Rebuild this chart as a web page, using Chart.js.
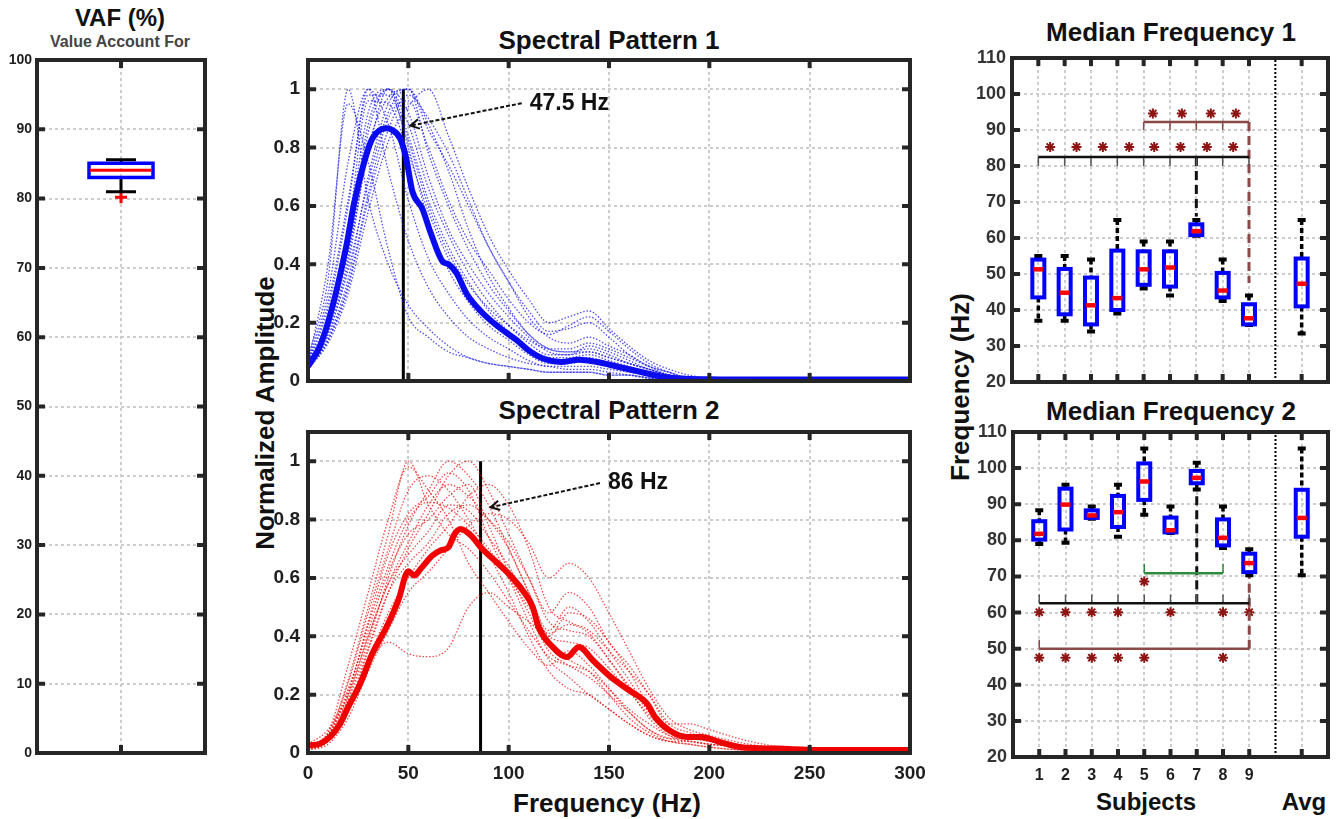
<!DOCTYPE html>
<html>
<head>
<meta charset="utf-8">
<title>VAF, spectral patterns and median frequency</title>
<script src="https://cdn.jsdelivr.net/npm/chart.js@4.4.1/dist/chart.umd.min.js"></script>
<style>
  body { margin:0; background:#fff; width:1338px; height:819px; position:relative; overflow:hidden;
         font-family:'Liberation Sans', Arial, Helvetica, sans-serif; font-weight:bold; color:#111; }
  .panel { position:absolute; }
  .lbl { position:absolute; transform:translate(-50%,-50%); white-space:nowrap; }
  .rot { transform:translate(-50%,-50%) rotate(-90deg); }
</style>
</head>
<body>
<div class="lbl" style="left:120px;top:18px;font-size:24px">VAF (%)</div>
<div class="lbl" style="left:120px;top:42px;font-size:16px;color:#444">Value Account For</div>
<div class="lbl" style="left:609px;top:40px;font-size:26px">Spectral Pattern 1</div>
<div class="lbl" style="left:609px;top:410px;font-size:26px">Spectral Pattern 2</div>
<div class="lbl rot" style="left:265px;top:413px;font-size:26px">Normalized Amplitude</div>
<div class="lbl" style="left:607px;top:803px;font-size:26px">Frequency (Hz)</div>
<div class="lbl" style="left:1171px;top:32px;font-size:26px">Median Frequency 1</div>
<div class="lbl" style="left:1171px;top:411px;font-size:26px">Median Frequency 2</div>
<div class="lbl rot" style="left:960px;top:387px;font-size:26px">Frequency (Hz)</div>
<div class="lbl" style="left:1146px;top:802px;font-size:24px">Subjects</div>
<div class="lbl" style="left:1304px;top:802px;font-size:24px">Avg</div>

<div class="panel" style="left:0px;top:36px;width:215px;height:749px"><canvas id="vaf"></canvas></div>
<div class="panel" style="left:240px;top:36px;width:702px;height:369px"><canvas id="sp1"></canvas></div>
<div class="panel" style="left:240px;top:408px;width:702px;height:381px"><canvas id="sp2"></canvas></div>
<div class="panel" style="left:955px;top:34px;width:383px;height:372px"><canvas id="mf1"></canvas></div>
<div class="panel" style="left:955px;top:408px;width:383px;height:389px"><canvas id="mf2"></canvas></div>

<script>
// ---------- data ----------
// VAF box: [lower whisker, q1, median, q3, upper whisker]
var vafBox = [81.0, 83.05, 84.1, 85.1, 85.6];
var vafOutliers = [80.2];

// spectral pattern 1 (blue)
var spec1Hz = [0,10,20,30,40,50,60,70,80,90,100,110,120,130,140,150,160,170,180,190,200,250,300];
var spec1Trials = [
  [.05,.18,.42,.85,1.0,.80,.55,.38,.27,.19,.14,.09,.06,.06,.07,.05,.04,.02,.01,.01,.005,0,0],
  [.04,.15,.35,.70,.95,1.0,.78,.60,.45,.33,.24,.16,.11,.10,.11,.09,.06,.04,.02,.01,.01,0,0],
  [.06,.25,.60,1.0,.88,.62,.42,.30,.21,.15,.11,.07,.05,.05,.05,.04,.03,.02,.01,.005,0,0,0],
  [.05,.16,.38,.68,.92,1.0,.86,.74,.60,.46,.34,.22,.15,.13,.15,.12,.09,.05,.03,.01,.01,0,0],
  [.07,.30,.75,1.0,.72,.48,.32,.22,.15,.11,.08,.06,.05,.04,.04,.03,.02,.01,.01,0,0,0,0],
  [.04,.14,.32,.62,.86,.98,.90,.78,.62,.46,.34,.24,.17,.18,.20,.15,.09,.05,.02,.01,.01,0,0],
  [.08,.35,1.0,.62,.40,.26,.18,.12,.08,.06,.05,.04,.03,.03,.03,.02,.02,.01,0,0,0,0,0],
  [.05,.20,.45,.88,1.0,.84,.62,.46,.34,.24,.17,.11,.08,.08,.09,.07,.05,.03,.02,.01,.005,0,0],
  [.06,.40,.95,.75,.45,.22,.15,.10,.08,.06,.05,.04,.03,.03,.03,.02,.02,.01,0,0,0,0,0],
  [.05,.17,.40,.80,.97,1.0,.88,.72,.52,.36,.25,.16,.11,.10,.10,.08,.06,.04,.02,.01,.01,0,0],
  [.04,.14,.33,.64,.90,.96,.80,.62,.48,.38,.28,.20,.16,.19,.22,.17,.11,.06,.03,.01,.01,0,0],
  [.06,.22,.52,.96,.95,.78,.58,.42,.30,.22,.16,.11,.08,.07,.08,.06,.04,.03,.02,.01,.005,0,0],
  [.05,.19,.44,.78,1.0,.92,.70,.52,.40,.30,.22,.15,.10,.09,.10,.08,.06,.04,.02,.01,.01,0,0],
  [.04,.13,.30,.58,.82,.94,1.0,.84,.66,.50,.38,.28,.20,.22,.24,.18,.12,.07,.04,.02,.01,0,0],
  [.05,.21,.50,.92,1.0,.88,.66,.50,.37,.27,.19,.13,.09,.09,.12,.10,.07,.04,.02,.01,.01,0,0],
  [.06,.27,.62,.98,.98,.82,.60,.44,.33,.25,.19,.14,.11,.11,.13,.11,.08,.05,.03,.01,.01,0,0]
];
var spec1MeanHz = [0,6,12,19,23,28,32,39,42,46,49,52,57,61,67,70,74,79,86,95,104,110,117,126,135,144,155,166,177,188,200,230,260,300];
var spec1Mean = [.05,.12,.25,.46,.61,.75,.83,.866,.86,.83,.76,.65,.59,.51,.41,.40,.37,.30,.24,.185,.14,.105,.077,.065,.073,.065,.048,.031,.014,.008,.006,.005,.005,.005];
var spec1Median = 47.5;

// spectral pattern 2 (red)
var spec2Hz = [0,10,20,30,40,50,60,70,80,90,100,110,120,130,140,150,160,170,180,190,200,220,250,300];
var spec2Trials = [
  [.02,.06,.25,.50,.75,1.0,.85,.75,.70,.62,.52,.42,.33,.30,.28,.22,.15,.10,.06,.05,.04,.02,.01,.01],
  [.01,.04,.15,.35,.55,.70,.82,.95,1.0,.90,.75,.60,.45,.42,.40,.32,.22,.12,.06,.04,.03,.02,.01,.01],
  [.03,.08,.20,.40,.58,.72,.85,.92,.88,.80,.70,.55,.42,.50,.45,.35,.25,.14,.07,.06,.05,.02,.01,0],
  [.02,.05,.18,.38,.60,.78,.90,1.0,.95,.85,.70,.55,.38,.32,.28,.20,.12,.07,.04,.03,.02,.01,.01,0],
  [.02,.07,.30,.55,.80,.98,.90,.80,.65,.55,.45,.36,.30,.35,.30,.22,.14,.08,.05,.04,.03,.02,.01,0],
  [.01,.03,.12,.28,.42,.55,.62,.70,.78,.82,.80,.72,.60,.65,.60,.48,.35,.22,.12,.08,.06,.03,.01,0],
  [.02,.06,.22,.42,.62,.75,.80,.88,.92,.78,.62,.48,.35,.30,.26,.20,.14,.08,.05,.05,.04,.02,.01,0],
  [.03,.05,.14,.30,.38,.34,.33,.36,.50,.55,.50,.45,.40,.48,.46,.38,.28,.16,.08,.06,.05,.02,.01,0],
  [.02,.06,.20,.45,.68,.82,.88,.96,.90,.74,.60,.45,.32,.26,.20,.15,.10,.06,.04,.04,.03,.02,.01,0],
  [.02,.05,.16,.36,.55,.65,.72,.82,.85,.80,.72,.60,.48,.55,.50,.38,.30,.20,.10,.10,.08,.04,.01,0],
  [.02,.07,.24,.48,.70,.90,.95,.90,.80,.68,.55,.40,.28,.22,.20,.15,.10,.06,.04,.03,.02,.01,.01,0],
  [.01,.04,.16,.32,.48,.60,.70,.78,.88,.92,.85,.70,.50,.45,.42,.35,.28,.20,.10,.07,.05,.02,.01,0],
  [.02,.05,.19,.40,.58,.68,.76,.85,.83,.74,.64,.52,.40,.38,.36,.29,.21,.13,.07,.06,.04,.02,.01,0],
  [.02,.06,.21,.44,.64,.80,.86,.84,.78,.70,.60,.50,.41,.44,.41,.32,.23,.14,.08,.06,.05,.02,.01,0]
];
var spec2MeanHz = [0,6,11,16,20,26,32,39,45,50,53,56,62,66,70,73,76,82,86,93,100,107,112,115,122,129,135,142,151,160,169,173,180,189,196,205,216,234,256,300];
var spec2Mean = [.026,.032,.055,.10,.157,.237,.34,.43,.523,.623,.608,.63,.677,.694,.705,.75,.768,.74,.705,.66,.614,.557,.50,.43,.363,.329,.363,.317,.26,.215,.169,.123,.078,.055,.055,.038,.02,.015,.01,.01];
var spec2Median = 86;

// median frequency boxes: subjects 1-9 then Avg (drawn at position 11)
var mfPos = [1,2,3,4,5,6,7,8,9,11];
var mfLabels = ['1','2','3','4','5','6','7','8','9',''];
var mf1Low  = [37, 37, 34, 39, 46, 44, 60.6, 42.5, 35.8, 33.5];
var mf1Q1   = [43.5, 38.8, 36, 40, 47, 46.5, 60.8, 43.5, 36, 41];
var mf1Med  = [51.3, 44.8, 41.3, 43.3, 51.3, 51.8, 61.9, 45.4, 37.7, 47.3];
var mf1Q3   = [54, 51.4, 49, 56.5, 56.3, 56.3, 63.8, 50.3, 41.6, 54.3];
var mf1High = [55, 55, 54, 65, 59, 59, 65, 54, 44, 65];
var mf2Low  = [79, 79.3, 86, 81, 87.1, 82, 94.1, 77.9, 70.3, 70.3];
var mf2Q1   = [80.2, 83, 86.2, 83.7, 91.2, 82.2, 95.8, 78.6, 71.2, 81];
var mf2Med  = [81.8, 89.9, 86.9, 87.8, 96.3, 82.8, 97.3, 80.7, 73.7, 86.2];
var mf2Q3   = [85.3, 94.3, 88.3, 92.3, 101.3, 86.3, 99.2, 85.8, 76.3, 94];
var mf2High = [88.3, 95.4, 89.4, 95.4, 105.4, 89.4, 101.5, 89.4, 77.5, 105.4];

// significance marks: [from, to, height]
var mf1SigBlack = [1, 9, 82.5];   var mf1SigBlackTicks = [1,2,3,4,5,6,7,8,9];
var mf1SigBrown = [5, 9, 92.2];   var mf1SigBrownTicks = [5,6,7,8];
var mf1Link7 = [7, 82.5, 66];     var mf1Link9 = [9, 92.2, 47.5];
var mf1StarsA = [1.45,2.45,3.45,4.45,5.4,6.4,7.4,8.4];  var mf1StarsAY = 85.3;
var mf1StarsB = [5.35,6.45,7.55,8.5];                   var mf1StarsBY = 94.6;

var mf2SigGreen = [5, 8, 70.9];   var mf2SigGreenTicks = [5,8];
var mf2SigBlack = [1, 9, 62.6];   var mf2SigBlackTicks = [1,2,3,4,5,6,7,8,9];
var mf2SigBrown = [1, 9, 50];     var mf2SigBrownTicks = [1];
var mf2Link7 = [7, 62.6, 94];     var mf2Link9 = [9, 50, 70];
var mf2StarsA = [5];                 var mf2StarsAY = 68.6;
var mf2StarsB = [1,2,3,4,6,8,9];     var mf2StarsBY = 60.1;
var mf2StarsC = [1,2,3,4,5,8];       var mf2StarsCY = 47.5;

// ---------- defaults ----------
Chart.defaults.font.family = "'Liberation Sans', Arial, Helvetica, sans-serif";
Chart.defaults.font.weight = 'bold';
Chart.defaults.color = '#1e1e1e';
Chart.defaults.animation = false;
Chart.defaults.events = [];
Chart.defaults.plugins.legend.display = false;
Chart.defaults.plugins.tooltip.enabled = false;
Chart.defaults.elements.point.radius = 0;

var GRID = { color:'#cdcdcd', lineWidth:2, drawTicks:false };
var BORDER = { display:false, dash:[3,3] };

// thick box round the plot and the short inward tick marks
Chart.register({
  id: 'frame',
  afterDraw: function(chart) {
    var ctx = chart.ctx, a = chart.chartArea, xs = chart.scales.x, ys = chart.scales.y;
    ctx.save();
    ctx.strokeStyle = '#262626';
    ctx.lineWidth = 4;
    ctx.beginPath();
    xs.ticks.forEach(function(t) {
      var px = xs.getPixelForValue(t.value);
      ctx.moveTo(px, a.bottom); ctx.lineTo(px, a.bottom - 8);
      ctx.moveTo(px, a.top); ctx.lineTo(px, a.top + 8);
    });
    ys.ticks.forEach(function(t) {
      var py = ys.getPixelForValue(t.value);
      ctx.moveTo(a.left, py); ctx.lineTo(a.left + 8, py);
      ctx.moveTo(a.right, py); ctx.lineTo(a.right - 8, py);
    });
    ctx.stroke();
    ctx.strokeRect(a.left, a.top, a.right - a.left, a.bottom - a.top);
    ctx.restore();
  }
});

function layoutFor(W, plot) {
  return { padding: { left:0, top:plot[1], right:W - plot[2], bottom:0 } };
}

function pts(xs, ys) {
  return xs.map(function(x, i) { return { x:x, y:ys[i] }; });
}

// box plot drawn through the chart scales
function boxPlugin(pos, low, q1, med, q3, high, st) {
  return {
    id: 'boxplot',
    afterDatasetsDraw: function(chart) {
      var ctx = chart.ctx, x = chart.scales.x, y = chart.scales.y;
      ctx.save();
      pos.forEach(function(p, i) {
        var cx = x.getPixelForValue(p);
        var yl = y.getPixelForValue(low[i]), y1 = y.getPixelForValue(q1[i]);
        var ym = y.getPixelForValue(med[i]), y3 = y.getPixelForValue(q3[i]);
        var yh = y.getPixelForValue(high[i]);
        ctx.strokeStyle = '#000';
        ctx.lineWidth = st.whisker;
        ctx.setLineDash(st.dash);
        ctx.beginPath();
        ctx.moveTo(cx, yh); ctx.lineTo(cx, y3);
        ctx.moveTo(cx, y1); ctx.lineTo(cx, yl);
        ctx.stroke();
        ctx.setLineDash([]);
        ctx.lineWidth = st.cap;
        ctx.beginPath();
        if (high[i] > q3[i]) { ctx.moveTo(cx - st.capHalf, yh); ctx.lineTo(cx + st.capHalf, yh); }
        if (low[i] < q1[i]) { ctx.moveTo(cx - st.capHalf, yl); ctx.lineTo(cx + st.capHalf, yl); }
        ctx.stroke();
        ctx.strokeStyle = '#0000ff';
        ctx.lineWidth = st.box;
        ctx.strokeRect(cx - st.half, y3, 2 * st.half, y1 - y3);
        ctx.strokeStyle = '#ff0000';
        ctx.lineWidth = st.med;
        ctx.beginPath();
        ctx.moveTo(cx - st.half + 1, ym); ctx.lineTo(cx + st.half - 1, ym);
        ctx.stroke();
      });
      ctx.restore();
    }
  };
}

// dashed arrow with a label on the spectral plots
function notePlugin(from, to, text) {
  return {
    id: 'note',
    afterDatasetsDraw: function(chart) {
      var ctx = chart.ctx, x = chart.scales.x, y = chart.scales.y;
      var x0 = x.getPixelForValue(from[0]), y0 = y.getPixelForValue(from[1]);
      var x1 = x.getPixelForValue(to[0]), y1 = y.getPixelForValue(to[1]);
      var ang = Math.atan2(y0 - y1, x0 - x1);
      ctx.save();
      ctx.strokeStyle = '#111';
      ctx.lineWidth = 2;
      ctx.setLineDash([4, 2]);
      ctx.beginPath(); ctx.moveTo(x0, y0); ctx.lineTo(x1, y1); ctx.stroke();
      ctx.setLineDash([]);
      ctx.beginPath();
      ctx.moveTo(x1 + 10 * Math.cos(ang + 0.5), y1 + 10 * Math.sin(ang + 0.5));
      ctx.lineTo(x1, y1);
      ctx.lineTo(x1 + 10 * Math.cos(ang - 0.5), y1 + 10 * Math.sin(ang - 0.5));
      ctx.stroke();
      ctx.fillStyle = '#111';
      ctx.font = "bold 23px 'Liberation Sans', Arial, sans-serif";
      ctx.textBaseline = 'middle';
      ctx.fillText(text, x0 + 8, y0);
      ctx.restore();
    }
  };
}

function plainNum(v) { return String(Math.round(v * 10) / 10); }

// ---------- VAF ----------
(function() {
  var W = 215, H = 749, plot = [37, 24, 205, 717];
  new Chart(document.getElementById('vaf'), {
    type: 'line',
    data: { datasets: [{
      data: vafOutliers.map(function(v) { return { x:1, y:v }; }),
      showLine: false, pointStyle: 'cross', pointRadius: 6, pointBorderWidth: 3, borderColor: '#ff0000'
    }] },
    options: {
      responsive: true, maintainAspectRatio: false,
      layout: layoutFor(W, plot),
      scales: {
        x: { type:'linear', min:0, max:2, grid:GRID, border:BORDER,
             ticks:{ display:false },
             afterBuildTicks: function(s) { s.ticks = [{ value:1 }]; },
             afterFit: function(s) { s.height = H - plot[3]; } },
        y: { min:0, max:100, grid:GRID, border:BORDER,
             ticks:{ stepSize:10, padding:5, font:{ size:14 } },
             afterFit: function(s) { s.width = plot[0]; } }
      }
    },
    plugins: [boxPlugin([1], [vafBox[0]], [vafBox[1]], [vafBox[2]], [vafBox[3]], [vafBox[4]],
      { half:32, box:3.5, med:3, whisker:3, dash:[], cap:3, capHalf:15 })]
  });
})();

// ---------- spectral patterns ----------
function spectral(id, H, showX, hz, trials, meanHz, mean, color, dotColor, median, note) {
  var W = 702, plot = [68, 24, 670, 345];
  var sets = trials.map(function(t) {
    return { data: pts(hz, t), borderColor: dotColor, borderWidth: 1.3, borderDash: [1.5, 1.8],
             cubicInterpolationMode: 'monotone' };
  });
  sets.push({ data: pts(meanHz, mean), borderColor: color, borderWidth: 6, cubicInterpolationMode: 'monotone' });
  sets.push({ data: [{ x:median, y:0 }, { x:median, y:1 }], borderColor: '#000', borderWidth: 3 });
  new Chart(document.getElementById(id), {
    type: 'line',
    data: { datasets: sets },
    options: {
      responsive: true, maintainAspectRatio: false,
      layout: layoutFor(W, plot),
      scales: {
        x: { type:'linear', min:0, max:300, grid:GRID, border:BORDER,
             ticks:{ display:showX, stepSize:50, padding:9, font:{ size:19 } },
             afterFit: function(s) { s.height = H - plot[3]; } },
        y: { min:0, max:1.1, grid:GRID, border:BORDER,
             ticks:{ stepSize:0.2, includeBounds:false, padding:8, font:{ size:19 }, callback: plainNum },
             afterFit: function(s) { s.width = plot[0]; } }
      }
    },
    plugins: [notePlugin(note[0], note[1], note[2])]
  });
}

spectral('sp1', 369, false, spec1Hz, spec1Trials, spec1MeanHz, spec1Mean, '#0a0af0', 'rgba(20,20,235,0.75)',
  spec1Median, [[106.5, 0.952], [51, 0.875], '47.5 Hz']);
spectral('sp2', 381, true, spec2Hz, spec2Trials, spec2MeanHz, spec2Mean, '#f20000', 'rgba(235,0,0,0.7)',
  spec2Median, [[145.5, 0.925], [91, 0.842], '86 Hz']);

// ---------- median frequency ----------
function hLine(sig, color) {
  return { data: [{ x:sig[0], y:sig[2] }, { x:sig[1], y:sig[2] }], borderColor: color, borderWidth: 2.5 };
}
function tickLines(xs, y0, y1, color) {
  var d = [];
  xs.forEach(function(x) { d.push({ x:x, y:y0 }, { x:x, y:y1 }, { x:x, y:null }); });
  return { data: d, borderColor: color, borderWidth: 1.5 };
}
function link(l, color) {
  return { data: [{ x:l[0], y:l[1] }, { x:l[0], y:l[2] }], borderColor: color, borderWidth: 3, borderDash: [9, 5] };
}
function stars(xs, y) {
  return { data: xs.map(function(x) { return { x:x, y:y }; }), showLine: false,
           pointStyle: 'star', pointRadius: 5, pointBorderWidth: 2, borderColor: '#8e1414' };
}

function medianChart(id, H, plot, showX, box, sets) {
  var W = 383;
  sets.push({ data: [{ x:10, y:20 }, { x:10, y:110 }], borderColor: '#000', borderWidth: 2, borderDash: [2, 2] });
  new Chart(document.getElementById(id), {
    type: 'line',
    data: { datasets: sets },
    options: {
      responsive: true, maintainAspectRatio: false,
      layout: layoutFor(W, plot),
      scales: {
        x: { type:'linear', min:0, max:12, grid:GRID, border:BORDER,
             ticks:{ display:showX, padding:9, font:{ size:16 },
                     callback: function(v) { var i = mfPos.indexOf(v); return i < 0 ? '' : mfLabels[i]; } },
             afterBuildTicks: function(s) { s.ticks = mfPos.map(function(v) { return { value:v }; }); },
             afterFit: function(s) { s.height = H - plot[3]; } },
        y: { min:20, max:110, grid:GRID, border:BORDER,
             ticks:{ stepSize:10, padding:6, color:'#333', font:{ size:18 } },
             afterFit: function(s) { s.width = plot[0]; } }
      }
    },
    plugins: [boxPlugin(mfPos, box[0], box[1], box[2], box[3], box[4],
      { half:6, box:4, med:4.5, whisker:3.5, dash:[5, 3], cap:4, capHalf:4 })]
  });
}

medianChart('mf1', 372, [57, 24, 373, 348], false, [mf1Low, mf1Q1, mf1Med, mf1Q3, mf1High], [
  hLine(mf1SigBlack, '#111'),
  tickLines(mf1SigBlackTicks, mf1SigBlack[2], mf1SigBlack[2] - 2.5, '#555'),
  hLine(mf1SigBrown, '#8a4848'),
  tickLines(mf1SigBrownTicks, mf1SigBrown[2], mf1SigBrown[2] - 2.2, '#8a4848'),
  link(mf1Link7, '#111'),
  link(mf1Link9, '#8a4848'),
  stars(mf1StarsA, mf1StarsAY),
  stars(mf1StarsB, mf1StarsBY)
]);

medianChart('mf2', 389, [58, 24, 373, 349], true, [mf2Low, mf2Q1, mf2Med, mf2Q3, mf2High], [
  hLine(mf2SigGreen, '#2e8b3e'),
  tickLines(mf2SigGreenTicks, mf2SigGreen[2], mf2SigGreen[2] + 2.6, '#2e8b3e'),
  hLine(mf2SigBlack, '#111'),
  tickLines(mf2SigBlackTicks, mf2SigBlack[2], mf2SigBlack[2] + 2.4, '#555'),
  hLine(mf2SigBrown, '#8a4848'),
  tickLines(mf2SigBrownTicks, mf2SigBrown[2], mf2SigBrown[2] + 2.5, '#8a4848'),
  link(mf2Link7, '#111'),
  link(mf2Link9, '#8a4848'),
  stars(mf2StarsA, mf2StarsAY),
  stars(mf2StarsB, mf2StarsBY),
  stars(mf2StarsC, mf2StarsCY)
]);
</script>
</body>
</html>
